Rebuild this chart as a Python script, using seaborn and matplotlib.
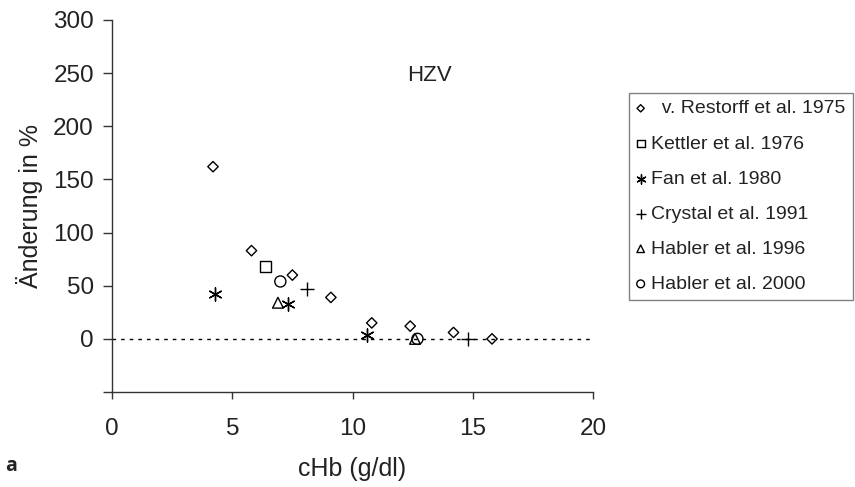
import matplotlib
matplotlib.use("Agg")
import matplotlib.pyplot as plt
import seaborn as sns
import pandas as pd

# ---- data ----
restorff_x = [4.2, 5.8, 7.5, 9.1, 10.8, 12.4, 14.2, 15.8]
restorff_y = [162, 83, 60, 39, 15, 12, 6, 0]
kettler_x = [6.4]
kettler_y = [68]
fan_x = [4.3, 7.3, 10.6]
fan_y = [42, 33, 4]
crystal_x = [8.1, 14.8]
crystal_y = [47, 0]
habler96_x = [6.9, 12.6]
habler96_y = [34, 0]
habler00_x = [7.0, 12.7]
habler00_y = [54, 0]

labels = ["  v. Restorff et al. 1975", "Kettler et al. 1976", "Fan et al. 1980",
          "Crystal et al. 1991", "Habler et al. 1996", "Habler et al. 2000"]
xs = [restorff_x, kettler_x, fan_x, crystal_x, habler96_x, habler00_x]
ys = [restorff_y, kettler_y, fan_y, crystal_y, habler96_y, habler00_y]

x_ticks = [0, 5, 10, 15, 20]
y_ticks = [-50, 0, 50, 100, 150, 200, 250, 300]
y_ticklabels = ["", "0", "50", "100", "150", "200", "250", "300"]

sns.set_style("ticks")
plt.rcParams["font.family"] = ["Liberation Sans", "DejaVu Sans"]

fig = plt.figure(figsize=(8.55, 4.87), dpi=100)
ax = fig.add_axes([112 / 855, 1 - 392 / 487, (593 - 112) / 855, (392 - 20) / 487])

markers = ["D", "s", (6, 2, 0), "+", "^", "o"]
sizes = [28, 64, 90, 90, 60, 64]
filled = [True, True, False, False, True, True]

for x, y, lab, m, s, f in zip(xs, ys, labels, markers, sizes, filled):
    df = pd.DataFrame({"x": x, "y": y})
    if f:
        sns.scatterplot(data=df, x="x", y="y", ax=ax, marker=m, s=s, color="black",
                        facecolor="none", edgecolor="black", linewidth=1.0,
                        label=lab, zorder=3)
    else:
        sns.scatterplot(data=df, x="x", y="y", ax=ax, marker=m, s=s, color="black",
                        linewidth=1.0, label=lab, zorder=3)

ax.axhline(0, color="black", lw=1.0, ls=(0, (2.6, 3.6)), zorder=1)

ax.set_xlim(0, 20)
ax.set_ylim(-50, 300)
ax.set_xticks(x_ticks)
ax.set_yticks(y_ticks)
ax.set_yticklabels(y_ticklabels)
ax.tick_params(axis="both", labelsize=17.5, width=1, color="#333333",
               labelcolor="#222222")
ax.tick_params(axis="y", length=6.5, pad=6.5)
ax.tick_params(axis="x", length=5, pad=14)
for side in ["top", "right"]:
    ax.spines[side].set_visible(False)
for side in ["left", "bottom"]:
    ax.spines[side].set_color("#333333")
    ax.spines[side].set_linewidth(1)

ax.set_xlabel("cHb (g/dl)", fontsize=18, color="#222222", labelpad=12)
ax.set_ylabel("Änderung in %", fontsize=18, color="#222222", labelpad=7)

ax.text(13.22, 248, "HZV", fontsize=16, color="#222222", ha="center", va="center")

handles, labs = ax.get_legend_handles_labels()
leg = ax.legend(handles, labs, loc="upper left",
                bbox_to_anchor=(629 / 855, 1 - 93 / 487), bbox_transform=fig.transFigure,
                fontsize=14, frameon=True, fancybox=False, framealpha=1,
                edgecolor="#808080", labelspacing=0.9, handletextpad=0.3,
                handlelength=0.5, borderpad=0.35, markerscale=0.7, borderaxespad=0)
leg.get_frame().set_linewidth(1.0)
for t in leg.get_texts():
    t.set_color("#222222")

fig.text(5 / 855, 1 - 466 / 487, "a", fontsize=14, fontweight="bold",
         family=["Open Sans", "DejaVu Sans"], va="center", ha="left", color="#222222")

fig.savefig("out.png", dpi=100)
